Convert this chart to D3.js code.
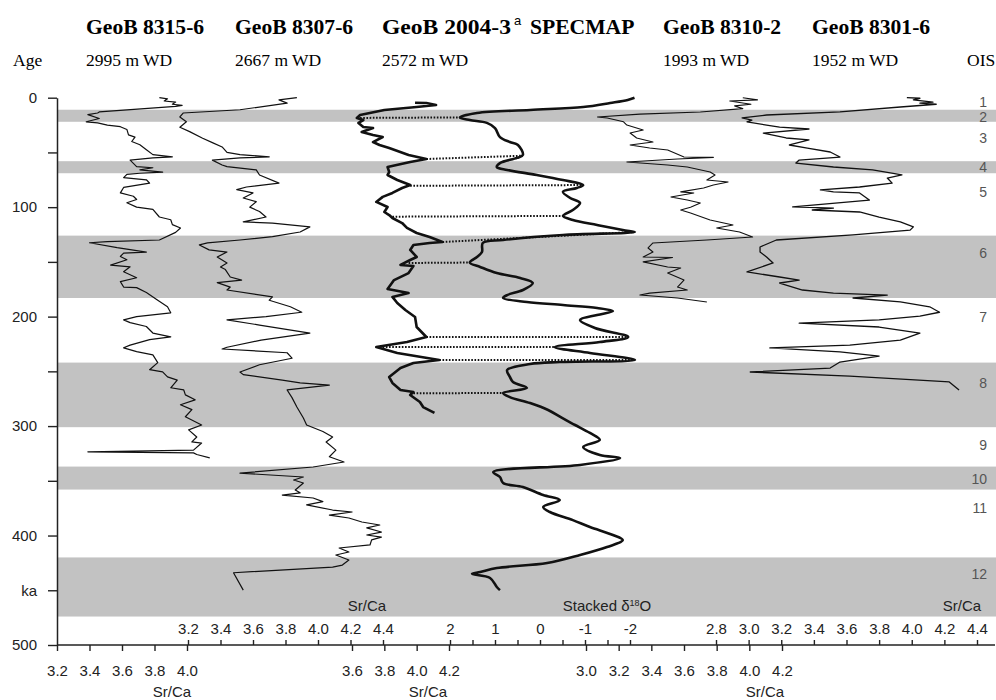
<!DOCTYPE html>
<html>
<head>
<meta charset="utf-8">
<script src="https://cdn.jsdelivr.net/npm/d3@7"></script>
<style>
body { margin:0; background:#fff; }
</style>
</head>
<body>
<svg id="chart" width="996" height="700"></svg>
<script>
// ---- data ----
var coreNames = ["GeoB 8315-6", "GeoB 8307-6", "GeoB 2004-3", "SPECMAP", "GeoB 8310-2", "GeoB 8301-6"];
var waterDepths = ["2995 m WD", "2667 m WD", "2572 m WD", "", "1993 m WD", "1952 m WD"];

var ageTicks = [0, 50, 100, 150, 200, 250, 300, 350, 400, 450, 500];

// glacial stages (shaded), ages in ka
var glacialBands = [[11, 22], [58, 69], [126, 183], [242, 301], [337, 358], [420, 474]];
var oisNames = ["1", "2", "3", "4", "5", "6", "7", "8", "9", "10", "11", "12"];
var oisAges = [4, 17.5, 37, 63, 86, 142, 200, 261, 317, 348, 375, 435];

// [age ka, Sr/Ca]
var geob8315 = [[0,3.83],[1,3.88],[3,3.86],[4,3.93],[6,3.91],[7,3.97],[8,3.93],[13,3.46],[14,3.45],[15.5,3.39],[19,3.46],[22,3.38],[23,3.45],[25,3.51],[26.5,3.59],[29,3.63],[34,3.64],[36,3.68],[40,3.66],[43,3.71],[47.5,3.75],[52,3.79],[54,3.91],[55,3.79],[57,3.65],[63,3.69],[64,3.79],[66,3.71],[68,3.85],[69,3.71],[70,3.63],[73,3.61],[75,3.75],[78,3.77],[82,3.61],[87,3.59],[90,3.67],[93,3.69],[96,3.63],[100,3.69],[102,3.79],[109,3.83],[111.5,3.9],[116,3.91],[119,3.96],[123,3.93],[130,3.83],[131.5,3.51],[132.5,3.4],[137,3.57],[141,3.75],[142,3.61],[145,3.59],[148,3.63],[153,3.53],[154.5,3.65],[159,3.61],[164.5,3.69],[168,3.59],[173,3.61],[173.5,3.69],[178,3.75],[185,3.82],[191,3.88],[196.5,3.9],[200,3.69],[203,3.61],[205.5,3.65],[209,3.75],[215,3.79],[218.5,3.9],[221,3.77],[226,3.65],[228.5,3.61],[232,3.69],[235,3.79],[242,3.82],[248.5,3.77],[250.5,3.85],[255,3.88],[258,3.94],[265,3.9],[267,3.98],[271.5,3.99],[276,4.05],[280.5,3.96],[285,4.03],[291.5,3.99],[299,4.09],[303.5,4.01],[310,4.06],[314.5,4.03],[315.5,4.09],[322,4.04],[323.5,3.39],[324.5,4.04],[326,4.06],[329,4.14]];

var geob8307 = [[0,3.87],[2,3.76],[5,3.81],[11,3.52],[14,3.17],[17.6,3.15],[22,3.19],[27,3.15],[31,3.21],[37,3.29],[41,3.35],[45,3.41],[50,3.44],[52,3.52],[54,3.7],[55,3.52],[57,3.35],[61.5,3.41],[63,3.44],[66,3.62],[70.6,3.64],[78,3.76],[81.6,3.56],[84,3.5],[87,3.6],[91.6,3.54],[95,3.62],[100,3.58],[104,3.64],[109,3.68],[113.5,3.54],[114.5,3.72],[118,3.95],[122.7,3.89],[127,3.72],[130,3.52],[132.7,3.32],[134.5,3.27],[139,3.33],[141,3.44],[145.5,3.38],[151,3.44],[154.6,3.4],[157,3.43],[163.8,3.46],[166.6,3.53],[169,3.38],[173,3.46],[175.7,3.44],[182,3.72],[185,3.7],[191,3.83],[196,3.9],[200,3.68],[203,3.44],[207.7,3.64],[215,3.95],[221.4,3.65],[228,3.44],[229.6,3.41],[233,3.81],[238,3.84],[244,3.64],[250.6,3.52],[253,3.54],[258,3.78],[260.6,3.89],[262.5,4.07],[267,3.81],[274,3.84],[282.6,3.87],[292.6,3.91],[299,3.93],[305,4.03],[310,4.09],[314.6,4.05],[322,4.11],[328,4.07],[332.8,4.16],[337.4,3.97],[343,3.52],[346.5,3.91],[349.3,3.85],[352,3.91],[358.4,3.86],[361,3.89],[363,3.78],[365.7,3.97],[369,4.03],[372,3.93],[376.7,4.09],[378.5,4.21],[381.4,4.07],[384,4.19],[387.6,4.27],[390.4,4.38],[393,4.3],[396.8,4.39],[399.5,4.3],[401.4,4.39],[404,4.33],[408.6,4.32],[411.4,4.13],[415,4.19],[417.8,4.11],[422.4,4.19],[427,4.15],[428.8,4.09],[434,3.48],[449.9,3.54]];

var geob2004 = [[4.6,3.99],[4.8,4.06],[6.7,4.12],[8.5,4.0],[11.2,3.8],[15.8,3.65],[18.5,3.63],[20.4,3.67],[23.1,3.64],[26.8,3.67],[27.7,3.73],[31.3,3.66],[34,3.73],[35.9,3.79],[40.5,3.73],[43.2,3.77],[46,3.83],[52.3,3.95],[56,4.06],[58.7,3.96],[63.3,3.82],[67.9,3.83],[70.6,3.82],[75.2,3.88],[79.8,3.96],[82.5,3.91],[87,3.85],[90.6,3.79],[95.2,3.75],[99.8,3.82],[104.4,3.8],[107.2,3.83],[109.9,3.85],[114.5,3.91],[119,3.94],[123.6,4.0],[127.3,4.08],[131.8,4.16],[132.7,4.08],[134.6,3.98],[139.1,3.96],[145.5,4.0],[148.3,3.96],[152.8,3.9],[153.7,3.98],[160.2,3.95],[166.6,3.86],[174.8,3.82],[178.5,3.95],[182,3.85],[187.6,3.88],[194,3.93],[200.3,3.99],[209.5,4.0],[218.6,4.06],[223.2,3.94],[227.8,3.75],[233.2,3.88],[239.6,4.14],[242.4,3.98],[246.9,3.9],[255.2,3.83],[260.6,3.85],[267,3.9],[268.9,3.98],[271.6,3.96],[278,4.02],[282.6,4.04],[288,4.11]];

// [age ka, stacked d18O]
var specmap = [[0,-2.1],[2,-1.95],[4.8,-1.56],[8.5,-0.96],[11.2,0.22],[14,1.4],[18,1.78],[20.4,1.56],[23,1.18],[27.7,1.0],[36,0.89],[40.5,0.67],[43.2,0.49],[52.3,0.38],[55,0.51],[59.7,0.89],[63.3,0.96],[66,0.73],[70.6,0.07],[75.2,-0.51],[79.8,-0.96],[82.5,-0.82],[86,-0.51],[91.6,-0.67],[96.2,-0.89],[102.6,-0.73],[108,-0.51],[111.7,-0.73],[116.3,-1.27],[120.9,-1.84],[122.7,-2.11],[125.4,-0.51],[130,0.82],[132.7,1.27],[141,1.29],[145.5,1.4],[150.6,1.56],[154.6,1.33],[160.2,0.96],[164.7,0.44],[169.3,0.16],[175.7,0.38],[180.3,0.73],[183,0.82],[186.6,0.29],[189.4,-0.51],[192.1,-1.27],[194.9,-1.62],[198.5,-1.27],[203.1,-0.89],[210.4,-1.22],[218.6,-1.96],[223.2,-1.33],[227.8,-0.33],[233.2,-1.11],[239.6,-2.11],[241.5,-0.44],[243.3,0.22],[248.8,0.73],[255,0.67],[259.7,0.6],[265.2,0.29],[269.8,0.82],[273.5,0.67],[279,0.22],[285.3,-0.18],[292.6,-0.49],[299,-0.78],[306.3,-1.11],[312.7,-1.33],[319.1,-0.96],[326.4,-1.33],[329.1,-1.78],[335.5,-0.89],[342,1.04],[346.5,0.89],[352,0.82],[355.7,0.38],[363,-0.07],[367.6,-0.44],[374,-0.07],[378.5,-0.22],[385.9,-0.73],[392.2,-1.11],[399.5,-1.62],[404.2,-1.84],[410.5,-1.49],[417.8,-0.89],[425.1,-0.16],[429.7,0.96],[433.4,1.33],[435,1.51],[438.8,1.11],[447,0.96],[449.9,0.89]];

var geob8310 = [[0,3.96],[2,4.05],[3,3.88],[6,4.01],[7.5,3.91],[10,3.96],[13,3.7],[15,3.33],[17.6,3.07],[18.5,3.13],[22,3.23],[25,3.25],[29.5,3.35],[32.3,3.27],[36.8,3.31],[40.5,3.41],[43.2,3.27],[46,3.39],[47.8,3.5],[54.2,3.6],[54.5,3.78],[56,3.56],[58.7,3.25],[61.5,3.5],[63.3,3.62],[67.9,3.76],[70.6,3.79],[75.2,3.74],[77,3.87],[79.8,3.78],[82.5,3.72],[86,3.58],[87,3.66],[90.7,3.52],[93.5,3.62],[96.2,3.7],[100,3.64],[102.6,3.58],[105.3,3.64],[111.7,3.76],[116.3,3.9],[119,3.8],[122.7,3.94],[127.3,4.02],[130,3.74],[132.7,3.41],[137.3,3.38],[141,3.41],[145.5,3.35],[146,3.53],[150,3.35],[154.6,3.5],[155.6,3.58],[160.2,3.5],[166.6,3.6],[173,3.56],[175.7,3.62],[178.5,3.39],[180.3,3.33],[183,3.56],[186.6,3.74]];

var geob8301 = [[0,3.97],[0.5,4.05],[2,4.01],[4,4.13],[5,4.05],[6,4.15],[8.5,3.93],[13,3.56],[15.8,3.11],[18.5,2.96],[20.4,3.02],[22,2.99],[25,3.11],[26.8,3.19],[28.6,3.37],[32.3,3.09],[36.8,3.23],[38.6,3.37],[43.2,3.25],[46,3.36],[49.6,3.5],[54.2,3.56],[57,3.31],[59.7,3.29],[63.3,3.52],[66,3.76],[70.6,3.94],[73.4,3.85],[78,3.88],[81.6,3.68],[84.3,3.44],[86,3.52],[87,3.68],[93.5,3.74],[99.8,3.27],[100.8,3.52],[102.6,3.39],[104.4,3.68],[109,3.8],[113.5,3.93],[118,4.01],[121,3.99],[125.4,3.64],[130,3.17],[136.4,3.07],[141,3.07],[145.5,3.11],[151,3.15],[159.2,2.99],[163.8,3.19],[166.6,3.31],[169.3,3.19],[175.7,3.33],[178.5,3.52],[180.3,3.85],[183,3.64],[186.6,3.93],[191,4.11],[196,4.17],[199.5,4.05],[203,3.8],[206,3.31],[209.5,3.8],[215,4.05],[221.4,3.93],[226,3.62],[228.6,3.13],[232.3,3.56],[236,3.8],[241.5,3.56],[247,3.5],[250.6,3.01],[254.3,3.62],[259.7,4.23],[267,4.29]];

// correlation tie points: [age 2004-3, Sr/Ca 2004-3, age SPECMAP, d18O]
var tiePoints = [[18.5,3.63,18,1.78],[56,4.06,53,0.38],[80.5,3.96,79.8,-0.96],[108.7,3.85,108,-0.51],[131.8,4.16,122.7,-2.11],[151,3.95,150.6,1.56],[218.6,4.06,218.6,-1.96],[227.8,3.75,227.8,-0.33],[239.6,4.14,239.6,-2.11],[270,3.96,269.8,0.82]];

// bottom axes
var ticks8315 = [3.2, 3.4, 3.6, 3.8, 4.0];
var ticks8307 = [3.2, 3.4, 3.6, 3.8, 4.0, 4.2, 4.4];
var ticks2004 = [3.6, 3.8, 4.0, 4.2];
var ticksSpecmap = [2, 1.5, 1, 0.5, 0, -0.5, -1, -1.5, -2];
var ticks8310 = [3.0, 3.2, 3.4, 3.6, 3.8, 4.0, 4.2];
var ticks8301 = [2.8, 3.0, 3.2, 3.4, 3.6, 3.8, 4.0, 4.2, 4.4];

// ---- layout ----
var svg = d3.select("#chart");
var axisY = 645;
var plotLeft = 57, plotRight = 996;
var sansFont = "'Liberation Sans', Arial, sans-serif";
var serifFont = "'Liberation Serif', 'Times New Roman', serif";

var y = d3.scaleLinear().domain([0, 500]).range([97.7, 645]);

var x8315 = d3.scaleLinear().domain([3.2, 4.0]).range([57, 187]);
var x8307 = d3.scaleLinear().domain([3.2, 4.4]).range([188, 383]);
var x2004 = d3.scaleLinear().domain([3.6, 4.2]).range([352, 449]);
var xSpec = d3.scaleLinear().domain([2, -2]).range([450, 630]);
var x8310 = d3.scaleLinear().domain([3.0, 4.2]).range([586, 782]);
var x8301 = d3.scaleLinear().domain([2.8, 4.4]).range([716, 977]);

// shaded glacial bands
svg.append("g").selectAll("rect")
    .data(glacialBands)
    .enter().append("rect")
    .attr("x", plotLeft + 1)
    .attr("width", plotRight - plotLeft - 1)
    .attr("y", function(d){ return y(d[0]); })
    .attr("height", function(d){ return y(d[1]) - y(d[0]); })
    .style("fill", "#c2c2c2");

// OIS numbers
svg.append("g").selectAll("text")
    .data(oisNames)
    .enter().append("text")
    .attr("x", 987)
    .attr("y", function(d, i){ return y(oisAges[i]); })
    .attr("dy", "0.36em")
    .attr("text-anchor", "end")
    .style("font-family", sansFont)
    .style("font-size", "14px")
    .style("fill", "#555")
    .text(function(d){ return d; });

// header
var titleX = [86, 235, 382, 530, 663, 812];
var titles = svg.append("g").selectAll("text")
    .data(coreNames)
    .enter().append("text")
    .attr("x", function(d, i){ return titleX[i]; })
    .attr("y", 34)
    .style("font-family", serifFont)
    .style("font-weight", "bold")
    .style("font-size", "21.6px")
    .text(function(d){ return d; });

// GeoB 2004-3 is set a little wider in the original
titles.filter(function(d){ return d == "GeoB 2004-3"; })
    .attr("textLength", 129)
    .attr("lengthAdjust", "spacingAndGlyphs");

svg.append("text")
    .attr("x", 514).attr("y", 25)
    .style("font-family", sansFont)
    .style("font-size", "13px")
    .text("a");

svg.append("g").selectAll("text")
    .data(waterDepths)
    .enter().append("text")
    .attr("x", function(d, i){ return titleX[i]; })
    .attr("y", 66)
    .style("font-family", serifFont)
    .style("font-size", "17.5px")
    .text(function(d){ return d; });

svg.append("text").attr("x", 13).attr("y", 66)
    .style("font-family", serifFont).style("font-size", "17.5px").text("Age");
svg.append("text").attr("x", 967).attr("y", 66)
    .style("font-family", serifFont).style("font-size", "17.5px").text("OIS");

// curves
var drawCurve = function(data, xs, width, smooth)
{
    var line = d3.line()
        .x(function(d){ return xs(d[1]); })
        .y(function(d){ return y(d[0]); });
    if (smooth) { line.curve(d3.curveCatmullRom.alpha(0.5)); }
    svg.append("path")
        .datum(data)
        .attr("d", line)
        .style("fill", "none")
        .style("stroke", "#111")
        .style("stroke-width", width)
        .style("stroke-linejoin", "round");
}

// tie lines between GeoB 2004-3 and SPECMAP
svg.append("g").selectAll("line")
    .data(tiePoints)
    .enter().append("line")
    .attr("x1", function(d){ return x2004(d[1]); })
    .attr("y1", function(d){ return y(d[0]); })
    .attr("x2", function(d){ return xSpec(d[3]); })
    .attr("y2", function(d){ return y(d[2]); })
    .style("stroke", "#111")
    .style("stroke-width", 2)
    .style("stroke-dasharray", "1.6,1.6");

drawCurve(geob8315, x8315, 1.2, false);
drawCurve(geob8307, x8307, 1.2, false);
drawCurve(geob2004, x2004, 2.6, false);
drawCurve(specmap, xSpec, 2.6, true);
drawCurve(geob8310, x8310, 1.1, false);
drawCurve(geob8301, x8301, 1.3, false);

// left age axis
var leftAxis = d3.axisLeft(y)
    .tickValues(ageTicks)
    .tickSize(9)
    .tickSizeOuter(0)
    .tickPadding(11)
    .tickFormat(function(d){
        if (d == 450) return "ka";
        return d % 100 == 0 ? d : "";
    });
var gl = svg.append("g")
    .attr("transform", "translate(" + plotLeft + ",0)")
    .call(leftAxis);

// bottom line
svg.append("line")
    .attr("x1", plotLeft).attr("x2", plotRight - 1)
    .attr("y1", axisY).attr("y2", axisY)
    .style("stroke", "#222").style("stroke-width", 1.5);

var fmt1 = d3.format(".1f");
var addAxis = function(scale, ticks, above, fmt)
{
    var ax = (above ? d3.axisTop(scale) : d3.axisBottom(scale))
        .tickValues(ticks)
        .tickSizeOuter(0)
        .tickSize(above ? 5 : 6)
        .tickPadding(above ? 6 : 14)
        .tickFormat(fmt);
    var g = svg.append("g")
        .attr("transform", "translate(0," + axisY + ")")
        .call(ax);
    g.select(".domain").remove();
    return g;
}

addAxis(x8315, ticks8315, false, fmt1);
addAxis(x8307, ticks8307, true, fmt1);
addAxis(x2004, ticks2004, false, fmt1);
addAxis(xSpec, ticksSpecmap, true, function(d){ return d % 1 == 0 ? String(d) : ""; });
addAxis(x8310, ticks8310, false, fmt1);
addAxis(x8301, ticks8301, true, fmt1);

svg.selectAll(".tick line").style("stroke", "#222").style("stroke-width", 1.4);
gl.select(".domain").style("stroke", "#222").style("stroke-width", 1.5);
svg.selectAll(".tick text")
    .style("font-family", sansFont)
    .style("font-size", "15px")
    .style("fill", "#222");

// axis titles
var axisTitles = [
    {t: "Sr/Ca", x: 172, y: 692},
    {t: "Sr/Ca", x: 367, y: 606},
    {t: "Sr/Ca", x: 428, y: 692},
    {t: "Sr/Ca", x: 765, y: 692},
    {t: "Sr/Ca", x: 962, y: 606}
];
svg.append("g").selectAll("text")
    .data(axisTitles)
    .enter().append("text")
    .attr("x", function(d){ return d.x; })
    .attr("y", function(d){ return d.y; })
    .attr("dy", "0.36em")
    .attr("text-anchor", "middle")
    .style("font-family", sansFont)
    .style("font-size", "15px")
    .style("fill", "#222")
    .text(function(d){ return d.t; });

var st = svg.append("text")
    .attr("x", 607).attr("y", 606).attr("dy", "0.36em")
    .attr("text-anchor", "middle")
    .style("font-family", sansFont)
    .style("font-size", "15px")
    .style("fill", "#222");
st.append("tspan").text("Stacked \u03b4");
st.append("tspan").attr("dy", "-5").style("font-size", "9px").text("18");
st.append("tspan").attr("dy", "5").text("O");
</script>
</body>
</html>
